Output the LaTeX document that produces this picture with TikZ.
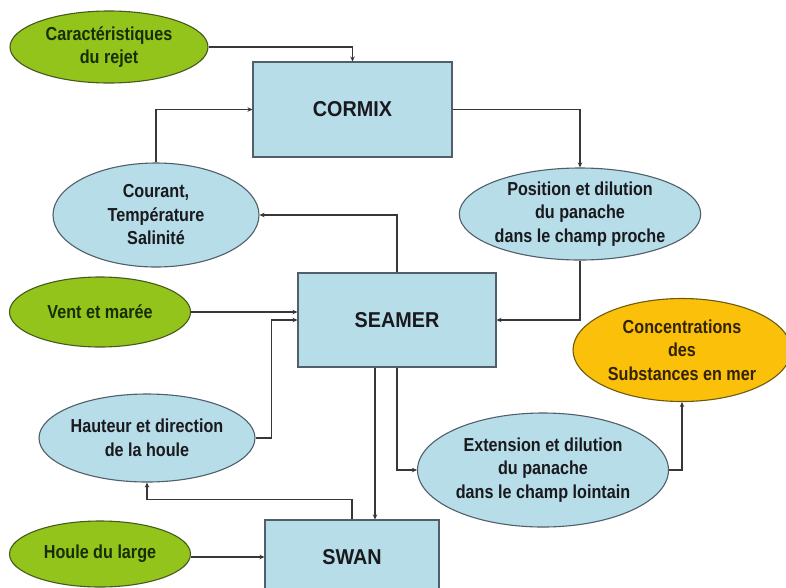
\documentclass[tikz,border=0pt]{standalone}
\usepackage{fontspec}
\setmainfont{Liberation Sans}[FakeStretch=0.86]
\newfontfamily\boxfont{Liberation Sans}[FakeStretch=0.92]
\usetikzlibrary{shapes.geometric,arrows.meta,calc}
\definecolor{gfill}{RGB}{146,196,28}
\definecolor{gdraw}{RGB}{70,90,30}
\definecolor{gtext}{RGB}{25,45,5}
\definecolor{bfill}{RGB}{183,221,232}
\definecolor{bdraw}{RGB}{80,95,105}
\definecolor{btext}{RGB}{25,25,30}
\definecolor{yfill}{RGB}{250,192,10}
\definecolor{ydraw}{RGB}{110,90,20}
\definecolor{ytext}{RGB}{50,35,5}
\definecolor{lcol}{RGB}{55,55,55}
\begin{document}
\begin{tikzpicture}[x=1pt,y=-1pt,
  ell/.style={ellipse,inner sep=0pt,line width=1.1pt,align=center,
    font=\bfseries\fontsize{18.8}{23.5}\selectfont},
  gell/.style={ell,fill=gfill,draw=gdraw,text=gtext},
  bell/.style={ell,fill=bfill,draw=bdraw,text=btext},
  yell/.style={ell,fill=yfill,draw=ydraw,text=ytext},
  boxnode/.style={rectangle,inner sep=0pt,fill=bfill,draw=bdraw,line width=1.1pt,
    text=btext,font=\boxfont\bfseries\fontsize{21.5}{26}\selectfont},
  arr/.style={draw=lcol,line width=1.3pt,-{Stealth[length=5pt,width=4.5pt]}}]
\useasboundingbox[fill=white] (0,0) rectangle (786,587);
% boxes
\node[boxnode,minimum width=199pt,minimum height=95pt] (cormix) at (352.5,109.5) {CORMIX};
\node[boxnode,minimum width=198pt,minimum height=94pt] (seamer) at (397,320) {SEAMER};
\node[boxnode,minimum width=174pt,minimum height=74pt] (swan) at (352,557) {SWAN};
% ellipses
\node[gell,minimum width=198pt,minimum height=72pt] (car) at (109,47) {Caractéristiques\\du rejet};
\node[bell,minimum width=206pt,minimum height=104pt] (courant) at (156,215) {Courant,\\Température\\Salinité};
\node[bell,minimum width=234pt,minimum height=92pt] (pos) at (580,214) {Position et dilution\\du panache\\dans le champ proche};
\node[gell,minimum width=181pt,minimum height=70pt] (vent) at (100,312) {Vent et marée};
\node[yell,minimum width=218pt,minimum height=103pt] (conc) at (682,350) {Concentrations\\des\\Substances en mer};
\node[bell,minimum width=200pt,minimum height=88pt] (hauteur) at (147,438) {Hauteur et direction\\de la houle};
\node[bell,minimum width=251pt,minimum height=114pt] (ext) at (543,470) {Extension et dilution\\du panache\\dans le champ lointain};
\node[gell,minimum width=181pt,minimum height=66pt] (houle) at (100,554) {Houle du large};
% connectors
\draw[arr] (car.east) -| (cormix.north);
\draw[arr] (courant.north) |- (cormix.west);
\draw[arr] (cormix.east) -| (pos.north);
\draw[arr] (pos.south) |- (seamer.east);
\draw[arr] (seamer.north) |- (courant.east);
\coordinate (sw1) at ($(seamer.west)+(0,-8)$);
\draw[arr] (vent.east) -- (vent.east -| sw1);
\draw[arr] (hauteur.east) -| ($(seamer.west)+(-26,0)$) -- (seamer.west);
\coordinate (sb1) at ($(seamer.south)+(-22,0)$);
\draw[arr] (sb1) -- (sb1 |- swan.north);
\draw[arr] (swan.north) -- ++(0,-20) -| (hauteur.south);
\draw[arr] (seamer.south) |- (ext.west);
\draw[arr] (ext.east) -| (conc.south);
\draw[arr] (houle.east |- swan.west) -- (swan.west);
\end{tikzpicture}
\end{document}
